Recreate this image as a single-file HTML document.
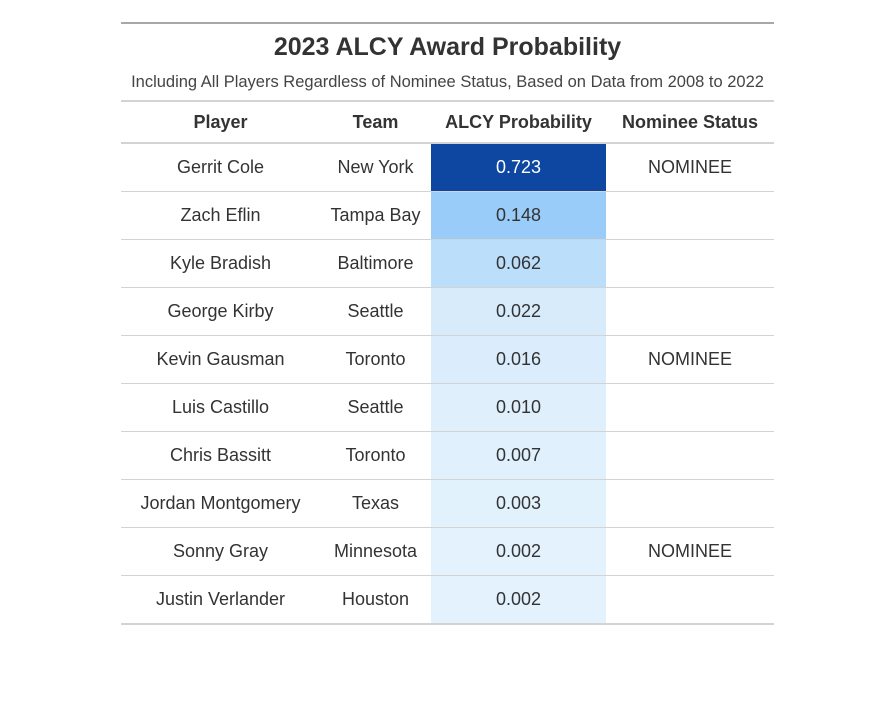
<!DOCTYPE html>
<html><head><meta charset="utf-8"><style>
body{margin:0;width:892px;height:715px;background:#fff;font-family:"Liberation Sans",sans-serif;color:#333;}
table{position:absolute;left:121px;top:22px;width:653px;border-collapse:collapse;border-top:2px solid #a8a8a8;border-bottom:2px solid #d3d3d3;}
td,th{text-align:center;padding:0;}
.title{font-size:25px;font-weight:bold;height:46px;vertical-align:middle;padding:0;}
.sub{font-size:16.5px;height:25px;padding-bottom:5px;vertical-align:middle;color:#444;border-bottom:2px solid #d3d3d3;}
th{font-size:18px;font-weight:bold;height:40px;border-bottom:2px solid #d3d3d3;}
tbody td{font-size:18px;height:47px;border-top:1px solid #d3d3d3;}
tbody tr:first-child td{border-top:none;}
</style></head><body>
<table>
<thead>
<tr><td colspan="4" class="title">2023 ALCY Award Probability</td></tr>
<tr><td colspan="4" class="sub">Including All Players Regardless of Nominee Status, Based on Data from 2008 to 2022</td></tr>
<tr>
<th style="width:199px">Player</th>
<th style="width:111px">Team</th>
<th style="width:175px">ALCY Probability</th>
<th style="width:168px">Nominee Status</th>
</tr></thead>
<tbody id="tb"></tbody>
</table>
<script>
const players=["Gerrit Cole","Zach Eflin","Kyle Bradish","George Kirby","Kevin Gausman","Luis Castillo","Chris Bassitt","Jordan Montgomery","Sonny Gray","Justin Verlander"];
const teams=["New York","Tampa Bay","Baltimore","Seattle","Toronto","Seattle","Toronto","Texas","Minnesota","Houston"];
const probs=[0.723,0.148,0.062,0.022,0.016,0.010,0.007,0.003,0.002,0.002];
const nominee=["NOMINEE","","","","NOMINEE","","","","NOMINEE",""];
const stops=[[0.002,[227,242,253]],[0.022,[216,235,251]],[0.062,[187,222,251]],[0.148,[153,204,249]],[0.723,[13,71,161]]];
function col(v){
  for(let i=0;i<stops.length-1;i++){
    const [a,ca]=stops[i],[b,cb]=stops[i+1];
    if(v<=b){const t=Math.max(0,(v-a)/(b-a));return 'rgb('+ca.map((c,k)=>Math.round(c+(cb[k]-c)*t)).join(',')+')';}
  }
  return 'rgb(13,71,161)';
}
const tb=document.getElementById('tb');
players.forEach((p,i)=>{
  const tr=document.createElement('tr');
  
  
  const cells=[p,teams[i],probs[i].toFixed(3),nominee[i]];
  const names=['player-cell','team-cell','probability-cell','nominee-cell'];
  cells.forEach((c,j)=>{
    const td=document.createElement('td');
    td.textContent=c;
    
    
    if(j===2){td.style.background=col(probs[i]);if(probs[i]>0.4)td.style.color='#fff';}
    tr.appendChild(td);
  });
  tb.appendChild(tr);
});
</script>
</body></html>
